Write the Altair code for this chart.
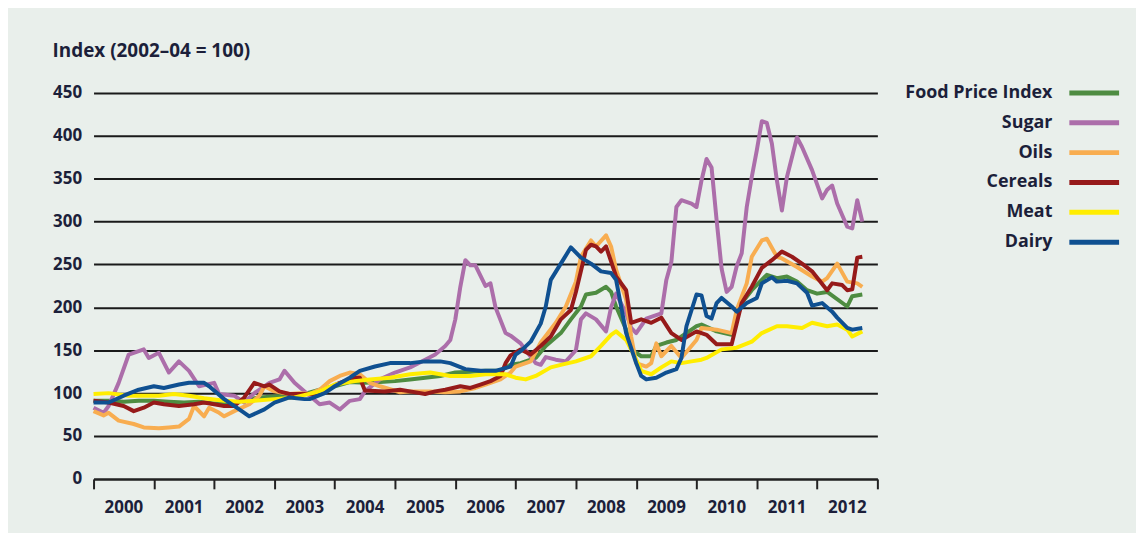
import altair as alt
import pandas as pd

# ---- data (months since Jan 2000, index values) ----
series_names = ["Food Price Index", "Sugar", "Oils", "Cereals", "Meat", "Dairy"]
series_colors = ["#4E8C41", "#AC6EAA", "#F8AD50", "#961A1A", "#FFED00", "#0F5091"]

fpi_m = [0, 3, 6, 9, 12, 15, 18, 21, 24, 27, 30, 33, 36, 39, 42, 45, 48, 51, 54, 57, 60, 63, 66, 69, 72,
         75, 78, 81, 83, 85, 88, 90, 93, 95, 97, 98, 100, 102, 103, 104, 106, 107, 109, 111, 112, 114,
         116, 119, 120, 121, 124, 127, 129, 131, 134, 136, 138, 140, 142, 144, 146, 150, 151, 153]
fpi_v = [91, 91, 90, 91, 91, 90, 89, 90, 88, 88, 92, 95, 96, 97, 99, 104, 108, 113, 112, 113, 114, 116,
         118, 120, 124, 125, 126, 126, 133, 135, 141, 155, 170, 186, 201, 215, 217, 224, 218, 201, 174,
         151, 143, 143, 155, 159, 162, 174, 178, 180, 172, 168, 205, 220, 238, 234, 236, 230, 220, 216,
         218, 201, 213, 215]

sugar_m = [0, 2, 3, 5, 7, 10, 11, 13, 15, 17, 19, 21, 24, 25, 28, 30, 32, 35, 37, 38, 40, 42, 45, 47,
           49, 51, 53, 54, 57, 60, 63, 66, 68, 70, 71, 72, 73, 74, 75, 76, 78, 79, 80, 82, 83, 85, 86,
           88, 89, 90, 92, 94, 96, 97, 98, 100, 102, 103, 104, 106, 107, 108, 110, 111, 113, 114, 115,
           116, 117, 119, 120, 121, 122, 123, 124, 125, 126, 127, 128, 129, 130, 131, 132, 133, 134,
           135, 136, 137, 138, 140, 141, 143, 145, 146, 147, 148, 150, 151, 152, 153]
sugar_v = [83, 77, 85, 112, 145, 151, 141, 147, 124, 137, 126, 108, 112, 99, 97, 89, 100, 112, 116,
           126, 112, 102, 87, 89, 81, 91, 93, 102, 116, 124, 130, 139, 145, 155, 162, 186, 224, 255, 249,
           249, 225, 228, 200, 170, 167, 158, 150, 135, 133, 142, 139, 137, 150, 186, 193, 186, 172, 200,
           216, 193, 176, 170, 187, 189, 193, 232, 253, 317, 325, 321, 317, 348, 373, 363, 302, 245, 218,
           224, 248, 263, 317, 352, 383, 417, 415, 391, 348, 313, 352, 398, 387, 360, 327, 337, 342, 321,
           294, 292, 325, 300]

oils_m = [0, 2, 3, 5, 8, 10, 13, 15, 17, 19, 20, 22, 23, 25, 26, 28, 31, 33, 34, 36, 39, 41, 43, 45, 47,
          49, 51, 53, 55, 57, 61, 63, 67, 70, 73, 76, 78, 81, 83, 84, 85, 87, 89, 92, 94, 96, 97, 99, 100,
          102, 103, 104, 106, 107, 108, 110, 111, 112, 113, 115, 117, 119, 120, 121, 124, 127, 128, 130,
          131, 133, 134, 136, 137, 140, 143, 145, 146, 148, 150, 152, 153]
oils_v = [79, 74, 77, 68, 64, 60, 59, 60, 61, 70, 85, 73, 83, 77, 73, 79, 87, 97, 108, 102, 99, 100, 99,
          104, 114, 120, 124, 122, 112, 108, 101, 102, 102, 101, 102, 106, 110, 116, 124, 131, 133, 137,
          159, 182, 201, 230, 259, 278, 271, 284, 271, 244, 209, 166, 135, 131, 135, 158, 143, 155, 141,
          155, 162, 176, 174, 170, 197, 228, 259, 278, 280, 259, 257, 247, 236, 230, 234, 251, 230, 228,
          224]

cereals_m = [0, 3, 6, 8, 10, 12, 14, 17, 20, 22, 26, 28, 30, 32, 34, 35, 37, 39, 42, 44, 46, 49, 52, 53,
             54, 58, 61, 63, 66, 68, 70, 73, 75, 77, 79, 81, 82, 83, 85, 87, 89, 91, 93, 95, 96, 98, 99,
             100, 101, 102, 104, 106, 107, 109, 111, 113, 115, 117, 120, 122, 124, 127, 129, 131, 133,
             135, 137, 139, 141, 143, 146, 147, 149, 150, 151, 152, 153]
cereals_v = [91, 89, 85, 79, 83, 89, 87, 85, 87, 89, 85, 85, 95, 112, 108, 110, 102, 99, 99, 99, 104,
             112, 118, 118, 103, 102, 104, 102, 99, 102, 104, 108, 106, 110, 114, 120, 135, 144, 151, 145,
             155, 166, 186, 197, 218, 267, 273, 271, 265, 271, 236, 220, 182, 186, 182, 188, 170, 162,
             172, 168, 157, 157, 205, 224, 246, 255, 265, 259, 251, 242, 220, 228, 226, 220, 221, 258,
             259]

meat_m = [0, 3, 7, 13, 16, 19, 22, 26, 29, 32, 36, 40, 45, 48, 52, 55, 59, 63, 67, 71, 75, 78, 82, 84,
          86, 88, 91, 93, 96, 99, 101, 103, 104, 106, 108, 109, 111, 113, 115, 117, 119, 121, 122, 125,
          128, 131, 133, 136, 138, 141, 143, 146, 148, 150, 151, 153]
meat_v = [99, 100, 97, 97, 99, 97, 94, 91, 90, 91, 93, 95, 102, 110, 114, 116, 118, 122, 124, 120, 120,
          122, 122, 118, 116, 120, 130, 133, 137, 143, 155, 168, 172, 162, 139, 126, 122, 130, 137, 135,
          137, 139, 141, 151, 153, 160, 170, 178, 178, 176, 182, 178, 180, 174, 166, 172]

dairy_m = [0, 3, 6, 9, 12, 14, 17, 19, 22, 23, 26, 29, 31, 34, 36, 39, 42, 43, 46, 48, 51, 53, 56, 59,
           63, 66, 69, 71, 74, 77, 80, 83, 84, 85, 87, 89, 90, 91, 93, 95, 97, 99, 101, 103, 104, 105,
           106, 108, 109, 110, 112, 114, 116, 117, 118, 120, 121, 122, 123, 124, 125, 127, 128, 130, 132,
           133, 135, 136, 138, 140, 142, 143, 145, 147, 148, 150, 151, 153]
dairy_v = [89, 89, 97, 104, 108, 106, 110, 112, 112, 108, 93, 81, 73, 81, 89, 95, 93, 93, 100, 108, 118,
           126, 131, 135, 135, 137, 137, 135, 128, 126, 126, 131, 145, 149, 160, 181, 201, 232, 251, 270,
           258, 251, 242, 240, 232, 201, 170, 135, 120, 116, 118, 124, 128, 141, 178, 215, 214, 190, 187,
           205, 211, 201, 195, 205, 211, 228, 235, 230, 231, 228, 217, 202, 205, 195, 188, 176, 174, 176]

year_ticks = list(range(2000, 2014))
y_ticks = list(range(0, 451, 50))

months = [fpi_m, sugar_m, oils_m, cereals_m, meat_m, dairy_m]
values = [fpi_v, sugar_v, oils_v, cereals_v, meat_v, dairy_v]

rows = []
for name, ms, vs in zip(series_names, months, values):
    for m, v in zip(ms, vs):
        rows.append({"series": name, "year": 2000 + m / 12.0, "value": v})
df = pd.DataFrame(rows)

TEXT = "#1c1f3a"
FONT = "Open Sans"

color_scale = alt.Scale(domain=series_names, range=series_colors)

x_enc = alt.X(
    "year:Q",
    scale=alt.Scale(domain=[2000, 2013], nice=False, zero=False),
    axis=alt.Axis(
        values=year_ticks, format="d",
        labelExpr="datum.value < 2013 ? datum.label : ''",
        labelOffset={"condition": {"test": "datum.value >= 2013", "value": -30}, "value": 30},
        labelFlush=False, labelOverlap=False,
        tickSize=10, tickWidth=2, tickColor="#222222",
        domainColor="#222222", domainWidth=2, grid=False, title=None,
        labelFontSize=17, labelFontWeight="bold", labelColor=TEXT, labelFont=FONT,
        labelPadding=11,
    ),
)
y_enc = alt.Y(
    "value:Q",
    scale=alt.Scale(domain=[0, 450], nice=False),
    axis=alt.Axis(
        values=y_ticks, grid=True, gridColor="#1a1a1a", gridWidth=2,
        domain=False, ticks=False, labelPadding=12, title=None,
        labelFontSize=17, labelFontWeight="bold", labelColor=TEXT, labelFont=FONT,
        minExtent=40, maxExtent=40,
    ),
)

layers = []
for name in series_names:
    layers.append(
        alt.Chart(df)
        .transform_filter(alt.datum.series == name)
        .mark_line(strokeWidth=4, strokeJoin="round")
        .encode(x=x_enc, y=y_enc,
                color=alt.Color("series:N", scale=color_scale, legend=None))
    )
main = alt.layer(*layers).properties(width=788, height=388)

leg_df = pd.DataFrame({"series": series_names})
leg_y = alt.Y("series:N", sort=series_names,
              scale=alt.Scale(type="point", padding=0), axis=None)
leg_text = alt.Chart(leg_df).mark_text(
    align="right", baseline="middle", font=FONT, fontSize=18, fontWeight="bold", color=TEXT
).encode(x=alt.value(155), y=leg_y, text="series:N")
leg_rule = alt.Chart(leg_df).mark_rule(strokeWidth=5, strokeCap="butt").encode(
    x=alt.value(172), x2=alt.value(222), y=leg_y,
    color=alt.Color("series:N", scale=color_scale, legend=None),
)
legend = alt.layer(leg_text, leg_rule).properties(width=222, height=150)

chart = (
    alt.hconcat(main, legend, spacing=20)
    .properties(
        title=alt.TitleParams(
            "Index (2002–04 = 100)", anchor="start", font=FONT, fontSize=19,
            fontWeight="bold", color=TEXT, offset=23,
        ),
        padding={"left": 44, "top": 33, "right": 14, "bottom": 16},
        background="#E9EFEB",
    )
    .configure_view(stroke=None)
)

chart.save("out.html", embed_options={"renderer": "svg", "actions": False})
